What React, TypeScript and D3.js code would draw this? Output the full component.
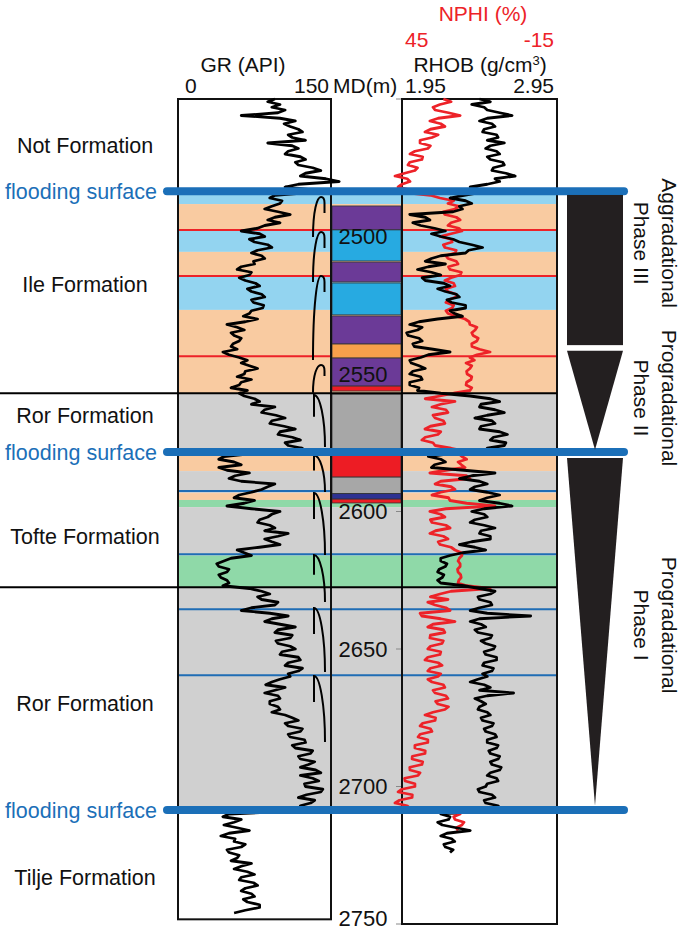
import * as d3 from 'd3';

const W = 682;
const H = 932;
const FONT = '"Liberation Sans", Arial, Helvetica, sans-serif';
const RED = '#ed2228';
const FLOOD_BLUE = '#1b6fb8';
const INK = '#231f20';

// plotted depth window, metres MD
const DEPTH_RANGE = [2450, 2750];
const DEPTH_TICKS = [2450, 2500, 2550, 2600, 2650, 2700, 2750];

// log curves, one sample per metre from the start depth (rows of 10 m)
const SAMPLE_STEP = 1;
const GR_START = 2450;
const GR_API = [
  95, 88, 100, 92, 105, 98, 62, 100, 115, 104,
  110, 118, 122, 108, 112, 125, 88, 112, 118, 108,
  105, 120, 125, 115, 118, 132, 140, 125, 120, 145,
  158, 118, 105, 130, 128, 95, 90, 102, 100, 92,
  85, 98, 110, 95, 88, 100, 85, 78, 62, 80,
  85, 70, 75, 88, 92, 78, 72, 82, 85, 74,
  75, 62, 58, 72, 70, 60, 66, 76, 80, 68,
  72, 82, 85, 72, 74, 84, 83, 72, 70, 64,
  78, 66, 48, 58, 65, 52, 55, 62, 60, 54,
  52, 58, 44, 50, 60, 68, 62, 70, 78, 66,
  65, 58, 72, 62, 60, 52, 68, 60, 65, 75,
  80, 72, 95, 85, 82, 96, 105, 92, 90, 104,
  115, 100, 98, 112, 120, 105, 108, 122, 95, 70,
  45, 40, 55, 62, 40, 48, 70, 56, 50, 62,
  95, 88, 82, 72, 60, 55, 75, 65, 48, 72,
  100, 92, 88, 80, 78, 90, 95, 85, 108, 98,
  85, 92, 100, 80, 58, 65, 72, 52, 45, 38,
  40, 50, 48, 40, 42, 48, 50, 44, 70, 82,
  90, 78, 82, 98, 95, 72, 62, 90, 108, 92,
  85, 100, 115, 98, 95, 112, 110, 96, 98, 110,
  115, 102, 100, 118, 120, 108, 105, 122, 118, 108,
  110, 100, 92, 86, 105, 95, 85, 98, 100, 90,
  90, 98, 100, 92, 105, 112, 118, 105, 108, 122,
  120, 108, 110, 124, 125, 112, 115, 132, 130, 118,
  120, 134, 128, 120, 135, 140, 120, 132, 138, 124,
  125, 142, 140, 126, 118, 134, 130, 120, 125, 110,
  50, 44, 62, 55, 45, 58, 70, 50, 42, 56,
  55, 66, 62, 48, 50, 60, 58, 52, 72, 62,
  55, 68, 75, 62, 60, 74, 78, 66, 62, 72,
  75, 64, 68, 80, 80, 66, 55,
];

const RHOB_START = 2450;
const RHOB_GCC = [
  2.45, 2.52, 2.4, 2.48, 2.5, 2.58, 2.66, 2.5, 2.45, 2.53,
  2.55, 2.48, 2.47, 2.56, 2.57, 2.5, 2.61, 2.52, 2.49, 2.56,
  2.58, 2.5, 2.52, 2.6, 2.61, 2.54, 2.53, 2.62, 2.68, 2.55,
  2.58, 2.5, 2.39, 2.46, 2.45, 2.35, 2.26, 2.36, 2.4, 2.32,
  2.34, 2.28, 2.0, 2.1, 2.13, 2.02, 2.07, 2.16, 2.23, 2.14,
  2.2, 2.28, 2.32, 2.4, 2.47, 2.38, 2.36, 2.2, 2.14, 2.1,
  2.23, 2.12, 2.05, 2.14, 2.2, 2.08, 2.1, 2.22, 2.26, 2.18,
  2.23, 2.3, 2.32, 2.24, 2.27, 2.36, 2.36, 2.26, 2.29, 2.34,
  2.18, 2.06, 2.0, 2.08, 2.05, 1.98, 1.99, 2.06, 2.08, 2.02,
  2.03, 2.15, 2.26, 2.12, 2.07, 2.0, 2.01, 2.06, 2.1, 2.02,
  2.0, 2.07, 2.08, 2.0, 2.0, 2.06, 2.05, 2.2, 2.39, 2.52,
  2.58, 2.46, 2.45, 2.55, 2.61, 2.5, 2.42, 2.53, 2.55, 2.46,
  2.45, 2.58, 2.63, 2.54, 2.52, 2.62, 2.61, 2.5, 2.49, 2.25,
  2.12, 2.2, 2.23, 2.16, 2.14, 2.35, 2.55, 2.4, 2.32, 2.45,
  2.5, 2.42, 2.39, 2.5, 2.58, 2.5, 2.45, 2.58, 2.66, 2.48,
  2.4, 2.48, 2.5, 2.42, 2.39, 2.48, 2.55, 2.46, 2.45, 2.52,
  2.52, 2.4, 2.32, 2.42, 2.49, 2.34, 2.26, 2.2, 2.2, 2.24,
  2.23, 2.19, 2.18, 2.22, 2.21, 2.18, 2.2, 2.35, 2.45, 2.55,
  2.52, 2.44, 2.45, 2.52, 2.53, 2.45, 2.39, 2.5, 2.78, 2.45,
  2.39, 2.46, 2.49, 2.42, 2.44, 2.53, 2.52, 2.46, 2.49, 2.55,
  2.54, 2.48, 2.49, 2.56, 2.56, 2.48, 2.47, 2.54, 2.53, 2.47,
  2.5, 2.44, 2.39, 2.48, 2.52, 2.45, 2.67, 2.5, 2.42, 2.46,
  2.49, 2.45, 2.44, 2.5, 2.52, 2.46, 2.47, 2.54, 2.53, 2.48,
  2.49, 2.55, 2.56, 2.5, 2.5, 2.57, 2.56, 2.51, 2.52, 2.58,
  2.57, 2.52, 2.53, 2.59, 2.58, 2.52, 2.5, 2.56, 2.57, 2.5,
  2.49, 2.44, 2.45, 2.53, 2.55, 2.48, 2.49, 2.57, 2.58, 2.4,
  2.2, 2.26, 2.25, 2.18, 2.21, 2.3, 2.39, 2.24, 2.2, 2.27,
  2.29, 2.22, 2.23, 2.28, 2.26,
];

const NPHI_START = 2450;
const NPHI_PCT = [
  29, 26, 30.3, 33, 32.2, 27, 22.5, 31, 34.2, 30,
  28.4, 34, 36.1, 31, 33.4, 38, 38, 34, 35, 40,
  41.9, 37, 37.3, 42, 42.7, 39, 40, 44, 47.7, 43,
  41.9, 45, 46.5, 42, 43.8, 34, 30.3, 25, 27.2, 23,
  24.5, 29, 28.4, 24, 22.5, 26, 27.2, 23, 21.8, 26,
  30.3, 26, 25.6, 29, 28.4, 24, 24.5, 28, 27.2, 24,
  23.3, 27, 26.4, 22, 22.5, 26, 28.4, 25, 24.5, 28,
  27.2, 24, 24.1, 27, 28, 25, 25.6, 28, 27.2, 24,
  20.6, 19, 18.7, 16, 16.7, 18, 17.5, 15.5, 16, 18,
  17.9, 15, 10.9, 16, 18.7, 17, 20.2, 18, 18.7, 20,
  19.8, 18, 18.3, 20, 20.2, 18, 18.7, 25, 30.3, 36,
  24.5, 30, 33.4, 28, 27.2, 33, 32.2, 29, 28.4, 34,
  36.1, 30, 31.1, 36, 37.3, 33, 32.2, 26, 20.6, 23,
  21.8, 20, 23.3, 22, 20.6, 28, 34.2, 20, 18.7, 30,
  32.2, 26, 24.5, 30, 33.4, 27, 26.4, 20, 9, 28,
  34.2, 30, 28.4, 34, 33.4, 28, 26.4, 32, 34.2, 29,
  27.2, 31, 30.3, 26, 24.5, 22, 21.8, 22.8, 23.3, 22.5,
  22.5, 23.5, 23.3, 22.3, 22.1, 23, 23.3, 20, 10.9, 26,
  30.3, 34, 27.2, 35, 32.2, 28, 26.4, 38, 37.3, 30,
  24.5, 33, 35, 29, 28.4, 34, 34.2, 29, 29.5, 34,
  35, 30, 30.3, 35, 36.1, 31, 29.5, 34, 35, 30,
  31.1, 35, 33.4, 29, 28.4, 33, 32.2, 28, 27.2, 32,
  31.1, 27, 28.4, 33, 36.1, 32, 32.2, 37, 38, 34,
  33.4, 38, 38.8, 35, 35, 40, 40, 36, 36.1, 41,
  41.1, 37, 37.3, 42, 41.9, 38, 38.8, 44, 43.8, 40,
  40, 45, 46.5, 41, 41.1, 46, 47.7, 43, 41.9, 30,
  22.5, 25, 24.5, 21, 21.8, 24, 23.3,
];

// facies bands behind the logs: [top, base, facies]
const FACIES_BANDS: [number, number, string][] = [
  [2483.5, 2488.2, 'offshore'],
  [2488.2, 2497.6, 'shoreface'],
  [2497.6, 2505.6, 'offshore'],
  [2505.6, 2514.4, 'shoreface'],
  [2514.4, 2526.7, 'offshore'],
  [2526.7, 2557.0, 'shoreface'],
  [2557.0, 2579.8, 'mudstone'],
  [2579.8, 2585.3, 'shoreface'],
  [2585.3, 2593.3, 'mudstone'],
  [2593.3, 2595.8, 'shoreface'],
  [2595.8, 2598.4, 'sand'],
  [2598.4, 2616.0, 'mudstone'],
  [2616.0, 2627.5, 'sand'],
  [2627.5, 2708.5, 'mudstone'],
];
const FACIES_COLORS: Record<string, string> = {
  offshore: '#93d4f0',
  shoreface: '#f9cba1',
  mudstone: '#d0d0d0',
  sand: '#8fd9a8',
};

// lithology column: [top, base, lithology]
const LITHO_COLUMN: [number, number, string][] = [
  [2488.9, 2497.6, 'purple'],
  [2497.6, 2508.9, 'blue'],
  [2509.3, 2516.5, 'purple'],
  [2516.9, 2528.5, 'blue'],
  [2528.9, 2539.1, 'purple'],
  [2539.1, 2544.2, 'orange'],
  [2544.2, 2554.4, 'purple'],
  [2554.4, 2556.2, 'red'],
  [2557.3, 2579.6, 'grey'],
  [2579.6, 2587.5, 'red'],
  [2587.5, 2593.5, 'grey'],
  [2593.5, 2595.5, 'navy'],
  [2595.5, 2596.9, 'red'],
];
const LITHO_COLORS: Record<string, string> = {
  purple: '#6b3a97',
  blue: '#27aae1',
  orange: '#f7a04b',
  red: '#ed1c24',
  grey: '#a7a7a7',
  navy: '#2e3192',
};

const RED_SURFACES = [2497.6, 2514.4, 2543.5];
const BLUE_SURFACES = [2592.5, 2615.5, 2635.5, 2659.5];
const FORMATION_BOUNDARIES = [2557.0, 2627.5];
const FLOODING_SURFACES = [2483.5, 2578.4, 2708.5];

const FORMATION_NAMES = [
  'Not Formation',
  'Ile Formation',
  'Ror Formation',
  'Tofte Formation',
  'Ror Formation',
  'Tilje Formation',
];
const FORMATION_LABEL_DEPTHS = [2467.1, 2517.6, 2565.3, 2609.3, 2670.0, 2733.3];

// parasequence trend symbols: [top, base]
const COARSENING_UP: [number, number][] = [
  [2485.6, 2500.2],
  [2498.4, 2516.5],
  [2514.4, 2544.9],
  [2546.7, 2556.8],
];
const FINING_UP: [number, number][] = [
  [2557.6, 2576.5],
  [2579.5, 2592.9],
  [2593.3, 2615.8],
  [2615.8, 2632.9],
  [2635.1, 2658.4],
  [2659.8, 2683.8],
];

// stacking pattern shapes on the right
const AGGRADATION_BLOCK = [2484.9, 2539.5];
const PROGRADATION_WEDGES: [number, number][] = [
  [2541.5, 2577.5],
  [2580.5, 2707.0],
];
const PHASE_LABELS = [
  ['Aggradational', 'Phase III'],
  ['Progradational', 'Phase II'],
  ['Progradational', 'Phase I'],
];
const PHASE_LABEL_DEPTHS = [2502.4, 2558.7, 2641.3];

export default function App() {
  const y = d3.scaleLinear().domain(DEPTH_RANGE).range([99, 924]);
  const xGR = d3.scaleLinear().domain([0, 150]).range([178, 331]);
  const xRHOB = d3.scaleLinear().domain([1.95, 2.95]).range([402, 557]);
  const xNPHI = d3.scaleLinear().domain([45, -15]).range([402, 557]);

  const bandLeft = 178;
  const bandRight = 557;
  const colLeft = 332;
  const colRight = 401;

  const grPath = d3
    .line<number>()
    .x((v) => xGR(v))
    .y((_, i) => y(GR_START + i * SAMPLE_STEP))(GR_API);
  const rhobPath = d3
    .line<number>()
    .x((v) => xRHOB(v))
    .y((_, i) => y(RHOB_START + i * SAMPLE_STEP))(RHOB_GCC);
  const nphiPath = d3
    .line<number>()
    .x((v) => xNPHI(v))
    .y((_, i) => y(NPHI_START + i * SAMPLE_STEP))(NPHI_PCT);

  const cuSymbol = ([top, base]: [number, number]) => {
    const t = y(top);
    const b = y(base);
    const h = b - t;
    return `M313,${b} C313,${t + 0.35 * h} 317,${t} 321,${t} C323.5,${t} 324.5,${t + 2} 324.5,${t + 6} L324.5,${t + Math.min(16, h * 0.4)}`;
  };
  const fuSymbol = ([top, base]: [number, number]) => {
    const t = y(top);
    const b = y(base);
    const h = b - t;
    return `M314,${t + Math.min(26, h * 0.42)} L314,${t} C320,${t} 325,${t + 0.45 * h} 325,${b}`;
  };

  const wedgeL = 567;
  const wedgeR = 623;
  const wedgeMid = (wedgeL + wedgeR) / 2;

  return (
    <svg
      width={W}
      height={H}
      viewBox={`0 0 ${W} ${H}`}
      style={{ position: 'absolute', left: 0, top: 0, background: '#fff' }}
      fontFamily={FONT}
    >
      <rect width={W} height={H} fill="#fff" />

      {FACIES_BANDS.map(([top, base, f], i) => (
        <rect
          key={`band${i}`}
          x={bandLeft}
          y={y(top)}
          width={bandRight - bandLeft}
          height={y(base) - y(top)}
          fill={FACIES_COLORS[f]}
        />
      ))}

      {RED_SURFACES.map((d) => (
        <line key={`r${d}`} x1={bandLeft} x2={bandRight} y1={y(d)} y2={y(d)} stroke={RED} strokeWidth={2} />
      ))}
      {BLUE_SURFACES.map((d) => (
        <line key={`b${d}`} x1={bandLeft} x2={bandRight} y1={y(d)} y2={y(d)} stroke="#1f6db5" strokeWidth={2} />
      ))}

      {/* depth ticks */}
      {DEPTH_TICKS.map((d) => (
        <line key={`t${d}`} x1={396} x2={402} y1={y(d)} y2={y(d)} stroke="#888" strokeWidth={1} />
      ))}

      {LITHO_COLUMN.map(([top, base, l], i) => (
        <rect
          key={`col${i}`}
          x={colLeft}
          y={y(top)}
          width={colRight - colLeft}
          height={y(base) - y(top)}
          fill={LITHO_COLORS[l]}
          stroke="#333"
          strokeWidth={0.8}
        />
      ))}

      {DEPTH_TICKS.filter((d) => d > DEPTH_RANGE[0]).map((d) => (
        <text
          key={`dl${d}`}
          x={363}
          y={Math.min(y(d), H - 14)}
          textAnchor="middle"
          dominantBaseline="central"
          fontSize={22}
          fill="#111"
        >
          {d}
        </text>
      ))}

      {/* track frames */}
      <rect x={178} y={y(2450)} width={331 - 178} height={y(2748.3) - y(2450)} fill="none" stroke="#111" strokeWidth={2} />
      <rect x={402} y={y(2450)} width={557 - 402} height={y(2750) - y(2450)} fill="none" stroke="#111" strokeWidth={2} />

      {/* logs */}
      <path d={grPath ?? ''} fill="none" stroke="#000" strokeWidth={2.8} strokeLinejoin="round" />
      <path d={nphiPath ?? ''} fill="none" stroke={RED} strokeWidth={2.8} strokeLinejoin="round" />
      <path d={rhobPath ?? ''} fill="none" stroke="#000" strokeWidth={2.8} strokeLinejoin="round" />

      {/* trend symbols */}
      {COARSENING_UP.map((s, i) => (
        <path key={`cu${i}`} d={cuSymbol(s)} fill="none" stroke="#000" strokeWidth={2} />
      ))}
      {FINING_UP.map((s, i) => (
        <path key={`fu${i}`} d={fuSymbol(s)} fill="none" stroke="#000" strokeWidth={2} />
      ))}

      {FORMATION_BOUNDARIES.map((d) => (
        <line key={`f${d}`} x1={0} x2={bandRight} y1={y(d)} y2={y(d)} stroke="#000" strokeWidth={2} />
      ))}

      {FLOODING_SURFACES.map((d) => (
        <g key={`fs${d}`}>
          <line x1={167} x2={624} y1={y(d)} y2={y(d)} stroke={FLOOD_BLUE} strokeWidth={8} strokeLinecap="round" />
          <text x={81} y={y(d) + 1} textAnchor="middle" dominantBaseline="central" fontSize={21.5} fill={FLOOD_BLUE}>
            flooding surface
          </text>
        </g>
      ))}

      {FORMATION_NAMES.map((name, i) => (
        <text
          key={`fn${i}`}
          x={85}
          y={y(FORMATION_LABEL_DEPTHS[i])}
          textAnchor="middle"
          dominantBaseline="central"
          fontSize={21.5}
          fill="#111"
        >
          {name}
        </text>
      ))}

      {/* stacking patterns */}
      <rect
        x={wedgeL}
        y={y(AGGRADATION_BLOCK[0])}
        width={wedgeR - wedgeL}
        height={y(AGGRADATION_BLOCK[1]) - y(AGGRADATION_BLOCK[0])}
        fill={INK}
      />
      {PROGRADATION_WEDGES.map(([top, base], i) => (
        <path key={`w${i}`} d={`M${wedgeL},${y(top)} L${wedgeR},${y(top)} L${wedgeMid},${y(base)} Z`} fill={INK} />
      ))}
      {PHASE_LABELS.map(([a, b], i) => (
        <g key={`ph${i}`} transform={`translate(0,${y(PHASE_LABEL_DEPTHS[i])})`} fontSize={21} fill="#111" textAnchor="middle">
          <text transform="translate(662,0) rotate(90)">{a}</text>
          <text transform="translate(634,0) rotate(90)">{b}</text>
        </g>
      ))}

      {/* headers */}
      <text x={483} y={21} textAnchor="middle" fontSize={21} fill={RED}>
        NPHI (%)
      </text>
      <text x={405} y={47} fontSize={21} fill={RED}>
        45
      </text>
      <text x={554} y={47} textAnchor="end" fontSize={21} fill={RED}>
        -15
      </text>
      <text x={243} y={72} textAnchor="middle" fontSize={21} fill="#111">
        GR (API)
      </text>
      <text x={480} y={72} textAnchor="middle" fontSize={21} fill="#111">
        RHOB (g/cm
        <tspan dy={-7} fontSize={13}>
          3
        </tspan>
        <tspan dy={7}>)</tspan>
      </text>
      <text x={185} y={93} fontSize={21} fill="#111">
        0
      </text>
      <text x={329} y={93} textAnchor="end" fontSize={21} fill="#111">
        150
      </text>
      <text x={333} y={93} fontSize={21} fill="#111">
        MD(m)
      </text>
      <text x={405} y={93} fontSize={21} fill="#111">
        1.95
      </text>
      <text x={554} y={93} textAnchor="end" fontSize={21} fill="#111">
        2.95
      </text>
    </svg>
  );
}
